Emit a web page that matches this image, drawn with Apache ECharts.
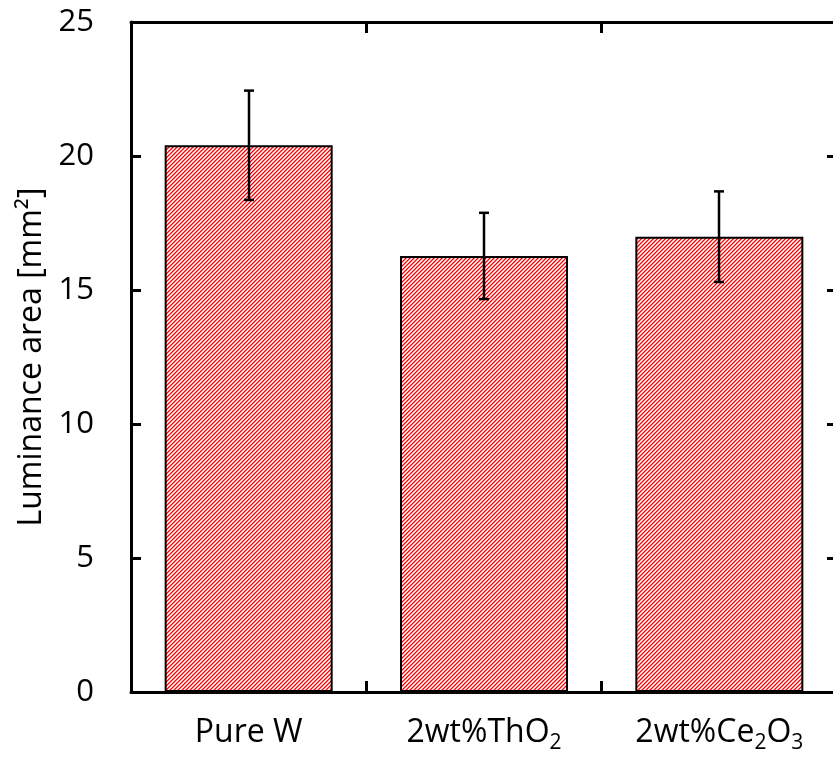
<!DOCTYPE html>
<html>
<head>
<meta charset="utf-8">
<script src="https://cdn.jsdelivr.net/npm/echarts@6/dist/echarts.min.js"></script>
<style>
  html, body { margin: 0; padding: 0; background: #fff; }
  #chart { width: 833px; height: 758px; }
</style>
</head>
<body>
<div id="chart"></div>
<script>
// Specimens and measured luminance area (mean ± error) in mm²
const categories = ['Pure W', '2wt%ThO2', '2wt%Ce2O3'];
const meanArea = [20.4, 16.27, 16.99];
const errArea = [2.04, 1.61, 1.69];
const yTicks = [0, 5, 10, 15, 20, 25];

const FONT = '"Open Sans", "Noto Sans", sans-serif';

// Red diagonal hatching used to fill the bars
function makeHatch() {
  const shades = ['#ff7070', '#ffffff', '#ffb8b8', '#ff0000'];
  const c = document.createElement('canvas');
  c.width = 4; c.height = 4;
  const g = c.getContext('2d');
  for (let y = 0; y < 4; y++) {
    for (let x = 0; x < 4; x++) {
      g.fillStyle = shades[(x + y) % 4];
      g.fillRect(x, y, 1, 1);
    }
  }
  return c;
}

// Turn chemical-formula digits into subscripts
function formulaLabel(v) {
  return v.replace(/([A-Za-z])(\d)/g, '$1{sub|$2}');
}

const chart = echarts.init(document.getElementById('chart'), null, { renderer: 'canvas' });

const axisLineStyle = { color: '#000', width: 3 };

const option = {
  animation: false,
  backgroundColor: '#fff',
  grid: {
    left: 131, top: 22, width: 706, height: 670,
    containLabel: false,
    outerBoundsMode: 'none'
  },
  xAxis: [
    {
      type: 'category',
      data: categories,
      position: 'bottom',
      axisLine: { show: true, onZero: false, lineStyle: axisLineStyle },
      axisTick: { show: true, inside: true, length: 11, lineStyle: axisLineStyle },
      axisLabel: {
        show: true,
        interval: 0,
        hideOverlap: false,
        margin: 20,
        color: '#000',
        fontFamily: FONT,
        fontSize: 32,
        lineHeight: 42,
        formatter: formulaLabel,
        rich: {
          sub: { fontFamily: FONT, fontSize: 21, lineHeight: 23, verticalAlign: 'bottom', color: '#000' }
        }
      },
      splitLine: { show: false }
    },
    {
      type: 'category',
      data: categories,
      position: 'top',
      axisLine: { show: true, onZero: false, lineStyle: axisLineStyle },
      axisTick: { show: true, inside: true, length: 11, lineStyle: axisLineStyle },
      axisLabel: { show: false },
      splitLine: { show: false }
    }
  ],
  yAxis: [
    {
      type: 'value',
      position: 'left',
      min: yTicks[0],
      max: yTicks[yTicks.length - 1],
      interval: yTicks[1] - yTicks[0],
      name: 'Luminance area [mm²]',
      nameLocation: 'middle',
      nameGap: 82,
      nameRotate: 90,
      nameTextStyle: { color: '#000', fontFamily: FONT, fontSize: 32 },
      axisLine: { show: true, onZero: false, lineStyle: axisLineStyle },
      axisTick: { show: true, inside: true, length: 10, lineStyle: axisLineStyle },
      axisLabel: { show: true, margin: 37, color: '#000', fontFamily: FONT, fontSize: 31 },
      splitLine: { show: false }
    },
    {
      type: 'value',
      position: 'right',
      min: yTicks[0],
      max: yTicks[yTicks.length - 1],
      interval: yTicks[1] - yTicks[0],
      axisLine: { show: true, onZero: false, lineStyle: axisLineStyle },
      axisTick: { show: true, inside: true, length: 10, lineStyle: axisLineStyle },
      axisLabel: { show: false },
      splitLine: { show: false }
    }
  ],
  series: [
    {
      type: 'bar',
      xAxisIndex: 0,
      yAxisIndex: 0,
      data: meanArea,
      barWidth: 168,
      itemStyle: {
        color: { image: makeHatch(), repeat: 'repeat' },
        borderColor: '#000',
        borderWidth: 2
      },
      z: 2
    },
    {
      type: 'custom',
      xAxisIndex: 0,
      yAxisIndex: 0,
      z: 5,
      data: categories.map((c, i) => [i, meanArea[i] - errArea[i], meanArea[i] + errArea[i]]),
      renderItem: function (params, api) {
        const lo = api.coord([api.value(0), api.value(1)]);
        const hi = api.coord([api.value(0), api.value(2)]);
        const x = Math.round(lo[0]);
        const cap = 5;
        const style = { stroke: '#000', lineWidth: 2.5 };
        return {
          type: 'group',
          children: [
            { type: 'line', shape: { x1: x, y1: lo[1], x2: x, y2: hi[1] }, style: style },
            { type: 'line', shape: { x1: x - cap, y1: hi[1], x2: x + cap, y2: hi[1] }, style: style },
            { type: 'line', shape: { x1: x - cap, y1: lo[1], x2: x + cap, y2: lo[1] }, style: style }
          ]
        };
      }
    }
  ]
};

chart.setOption(option);
</script>
</body>
</html>
